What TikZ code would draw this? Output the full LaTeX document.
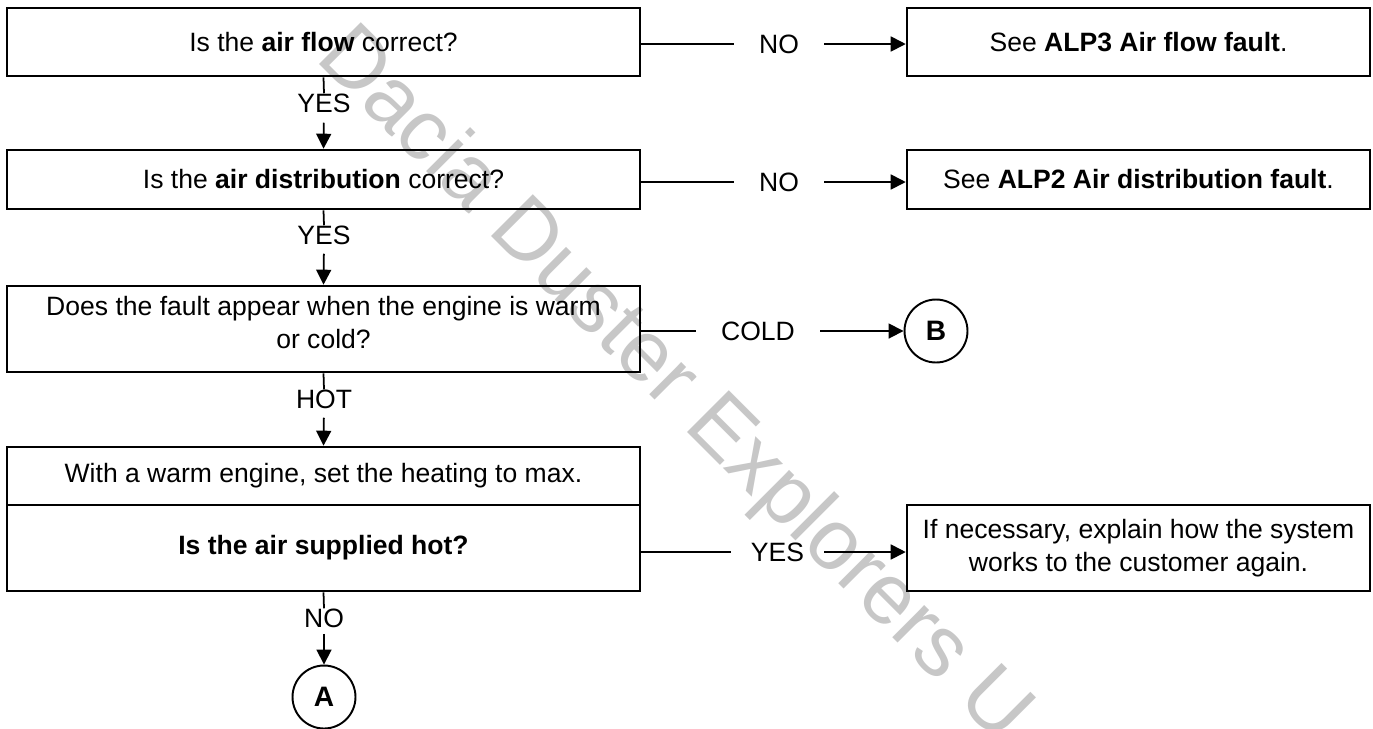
\documentclass[tikz,border=0pt]{standalone}
\usepackage{fontspec}
\setmainfont{Liberation Sans}
\usetikzlibrary{arrows.meta}
\tikzset{
  every picture/.style={
    font=\fontsize{15.1pt}{18.8pt}\selectfont,
    >={Triangle[length=0.3cm,width=0.3cm]},   % solid heads on every connector
  },
  qbox/.style={draw, line width=1.5pt, minimum width=12.66cm, align=center, inner sep=0pt},
  abox/.style={draw, line width=1.5pt, minimum width=9.26cm, align=center, inner sep=0pt},
  jump/.style={circle, draw, line width=1.1pt, minimum size=1.26cm, inner sep=0pt,
    font=\fontsize{16pt}{19pt}\selectfont\bfseries},
  link/.style={line width=1pt},
  answer/.style={inner xsep=0.5cm, inner ysep=0pt},
}
\begin{document}
\begin{tikzpicture}[x=0.02cm, y=-0.02cm]
    \useasboundingbox (0,0) rectangle (1373,728);
    % Watermark
    \node[anchor=base west, rotate=-45, inner sep=0pt, text=black!22,
      font=\fontsize{48.9pt}{50pt}\selectfont] (mark) at (314,59) {Dacia Duster Explorers U};
    % Questions
    \node[qbox, minimum height=1.36cm] (q1) at (323.5,42) {Is the \textbf{air flow} correct?};
    \node[qbox, minimum height=1.18cm] (q2) at (323.5,179.5) {Is the \textbf{air distribution} correct?};
    \node[qbox, minimum height=1.72cm, text depth=0.28cm] (q3) at (323.5,329) {Does the fault appear when the engine is warm\\or cold?};
    \node[qbox, minimum height=1.16cm] (q4a) at (323.5,476) {With a warm engine, set the heating to max.};
    \node[qbox, minimum height=1.72cm] (q4b) at (323.5,548) {\textbf{Is the air supplied hot?}};
    % Outcomes
    \node[abox, minimum height=1.36cm] (r1) at (1138.5,42) {See \textbf{ALP3 Air flow fault}.};
    \node[abox, minimum height=1.18cm] (r2) at (1138.5,179.5) {See \textbf{ALP2 Air distribution fault}.};
    \node[abox, minimum height=1.72cm] (r3) at (1138.5,548) {If necessary, explain how the system\\works to the customer again.};
    \node[jump] (b) at (936,331) {B};
    \node[jump] (a) at (324,697) {A};
    % Answers
    \node[answer] (y1) at (324,103) {YES};
    \node[answer] (y2) at (324,235) {YES};
    \node[answer] (hot) at (324,399) {HOT};
    \node[answer] (no3) at (324,618) {NO};
    \node[answer] (no1) at (779,44) {NO};
    \node[answer] (no2) at (779,182) {NO};
    \node[answer] (cold) at (758,331) {COLD};
    \node[answer, inner xsep=0.4cm] (y3) at (777.5,552) {YES};
    % Down the left column
    \draw[link] (q1.south) -- (y1.north);
    \draw[link, ->, shorten <=0.2cm] (y1.south) -- (q2.north);
    \draw[link] (q2.south) -- (y2.north);
    \draw[link, ->, shorten <=0.18cm] (y2.south) -- (q3.north);
    \draw[link] (q3.south) -- (hot.north);
    \draw[link, ->, shorten <=0.18cm] (hot.south) -- (q4a.north);
    \draw[link] (q4b.south) -- (no3.north);
    \draw[link, ->, shorten <=0.12cm] (no3.south) -- (a.north);
    % Across to the right
    \draw[link] (q1.east |- no1.west) -- (no1.west);
    \draw[link, ->] (no1.east) -- (no1.east -| r1.west);
    \draw[link] (q2.east |- no2.west) -- (no2.west);
    \draw[link, ->] (no2.east) -- (no2.east -| r2.west);
    \draw[link] (q3.east |- cold.west) -- (cold.west);
    \draw[link, ->] (cold.east) -- (b.west);
    \draw[link] (q4b.east |- y3.west) -- (y3.west);
    \draw[link, ->] (y3.east) -- (y3.east -| r3.west);
\end{tikzpicture}
\end{document}
